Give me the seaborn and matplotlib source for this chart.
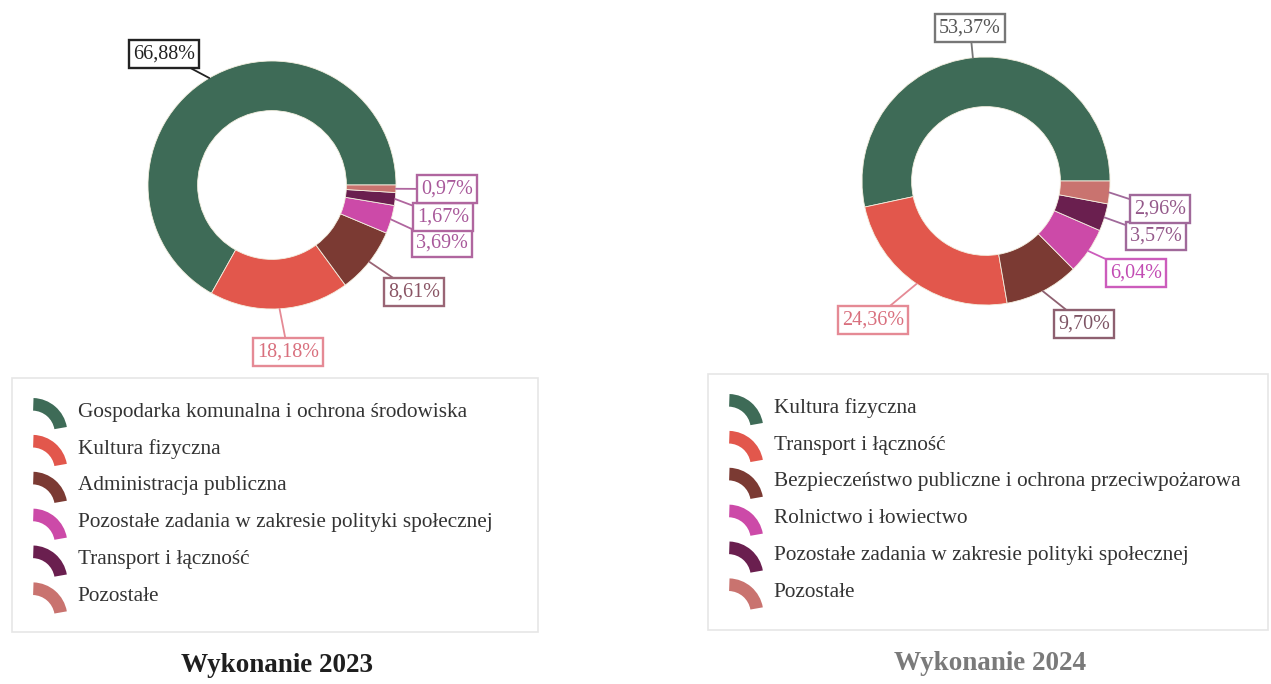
import matplotlib
matplotlib.use("Agg")
import matplotlib.pyplot as plt
from matplotlib.patches import Wedge, Rectangle, Patch
from matplotlib.legend_handler import HandlerPatch
import numpy as np
import seaborn as sns

# --------- DANE ---------
kategorie_2023 = [
    "Gospodarka komunalna i ochrona środowiska",
    "Kultura fizyczna",
    "Administracja publiczna",
    "Pozostałe zadania w zakresie polityki społecznej",
    "Transport i łączność",
    "Pozostałe",
]
udzialy_2023 = [66.88, 18.18, 8.61, 3.69, 1.67, 0.97]

kategorie_2024 = [
    "Kultura fizyczna",
    "Transport i łączność",
    "Bezpieczeństwo publiczne i ochrona przeciwpożarowa",
    "Rolnictwo i łowiectwo",
    "Pozostałe zadania w zakresie polityki społecznej",
    "Pozostałe",
]
udzialy_2024 = [53.37, 24.36, 9.70, 6.04, 3.57, 2.96]

tytuly = ["Wykonanie 2023", "Wykonanie 2024"]

# --------- STYL / UKŁAD ---------
W, H = 1271, 684
R = 124  # promień pierścienia w px
KOLORY = ["#3e6b57", "#e2574c", "#7b3a33", "#cc4aa8", "#6a1f4f", "#c9736f"]

# środki pierścieni (px)
srodki = [(272, 185), (986, 181)]
# środki etykiet (px)
pozycje_etykiet = [
    [(164, 54), (288, 352), (414, 292), (442, 243), (443, 217), (447, 189)],
    [(970, 28), (873, 320), (1084, 324), (1136, 273), (1156, 236), (1160, 209)],
]
# (kolor tekstu, kolor ramki)
style_etykiet = [
    [("#222222", "#222222"), ("#d9707e", "#e58a95"), ("#8a5565", "#9a6575"),
     ("#a8589a", "#b0669f"), ("#a8589a", "#b0669f"), ("#a8589a", "#b0669f")],
    [("#555555", "#777777"), ("#d9707e", "#e58a95"), ("#7e5565", "#8e6070"),
     ("#c24bb3", "#cc5cbc"), ("#94598a", "#a0699a"), ("#94598a", "#a0699a")],
]
legendy = [(33, 398), (729, 394)]
ramki = [(12, 378, 538, 632), (708, 374, 1268, 630)]
tytul_poz = [(277, 666, "#1f1f1f"), (990, 663, "#7a7a7a")]

sns.set_theme(style="white")
plt.rcParams["font.family"] = ["Liberation Serif", "DejaVu Serif"]


class ArcHandler(HandlerPatch):
    def create_artists(self, legend, orig_handle, xdescent, ydescent,
                       width, height, fontsize, trans):
        r = width * 1.0
        cx = -xdescent - 0.02 * width
        cy = -ydescent + height - r
        w = Wedge((cx, cy), r, 10, 88, width=r * 0.36,
                  facecolor=orig_handle.get_facecolor(), edgecolor="none",
                  transform=trans)
        return [w]


fig = plt.figure(figsize=(W / 100, H / 100), dpi=100)
fig.patch.set_facecolor("white")

dane = [(kategorie_2023, udzialy_2023), (kategorie_2024, udzialy_2024)]

for i, (kat, val) in enumerate(dane):
    cx, cy = srodki[i]
    half = 1.25 * R
    ax = fig.add_axes([(cx - half) / W, 1 - (cy + half) / H, 2 * half / W, 2 * half / H])
    wedges, _ = ax.pie(val, colors=sns.color_palette(KOLORY), startangle=0,
                       counterclock=True, radius=1,
                       wedgeprops=dict(width=0.4, edgecolor="#f4efe0", linewidth=0.6))
    ax.set_xlim(-1.25, 1.25)
    ax.set_ylim(-1.25, 1.25)
    ax.axis("off")

    for j, (w, v) in enumerate(zip(wedges, val)):
        ang = np.deg2rad((w.theta1 + w.theta2) / 2)
        xy = (np.cos(ang), np.sin(ang))
        px, py = pozycje_etykiet[i][j]
        tc, ec = style_etykiet[i][j]
        ax.annotate(f"{v:.2f}%".replace(".", ","), xy=xy,
                    xytext=((px - cx) / R, (cy - py) / R),
                    ha="center", va="center", fontsize=14.5, color=tc,
                    bbox=dict(boxstyle="square,pad=0.2", facecolor="white",
                              edgecolor=ec, linewidth=1.7),
                    arrowprops=dict(arrowstyle="-", color=ec, lw=1.3,
                                    shrinkA=0, shrinkB=0))

    # ramka legendy
    x0, y0, x1, y1 = ramki[i]
    fig.patches.append(Rectangle((x0 / W, 1 - y1 / H), (x1 - x0) / W, (y1 - y0) / H,
                                 transform=fig.transFigure, facecolor="white",
                                 edgecolor="#e6e6e6", linewidth=1.2, zorder=0))

    uchwyty = [Patch(facecolor=c) for c in KOLORY]
    lx, ly = legendy[i]
    fig.legend(uchwyty, kat, loc="upper left",
               bbox_to_anchor=(lx / W, 1 - ly / H), frameon=False,
               fontsize=15.3, handler_map={Patch: ArcHandler()},
               handlelength=1.65, handleheight=1.3, labelspacing=0.62,
               handletextpad=0.45, borderpad=0, borderaxespad=0,
               labelcolor="#333333")

    tx, ty, tcol = tytul_poz[i]
    fig.text(tx / W, 1 - ty / H, tytuly[i], ha="center", va="center",
             fontsize=19.5, fontweight="bold", color=tcol)

fig.savefig("out.png", dpi=100)
